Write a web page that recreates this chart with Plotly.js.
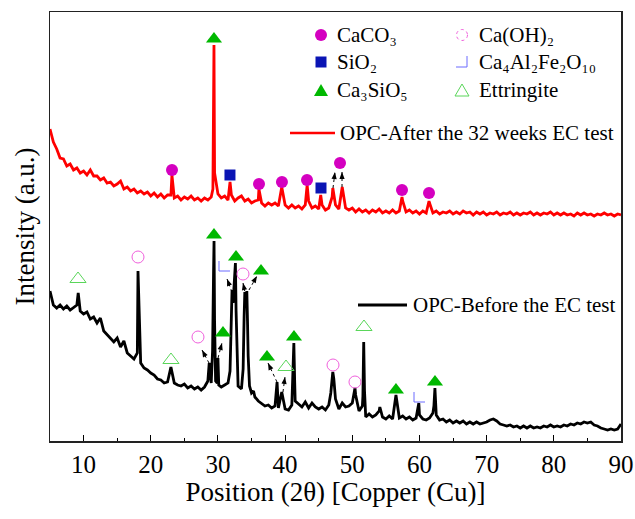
<!DOCTYPE html>
<html>
<head>
<meta charset="utf-8">
<script src="https://cdn.plot.ly/plotly-3.0.1.min.js"></script>
<style>
  html, body { margin: 0; padding: 0; background: #fff; }
  #chart { width: 635px; height: 519px; }
</style>
</head>
<body>
<div id="chart"></div>
<script>
// XRD patterns of OPC before and after the 32-week EC test.
// Intensities are arbitrary units (the two patterns are stacked); the background
// is sampled every 0.5° 2θ and the sharp reflections are listed on their own.
const GRID_START = 5;
const GRID_STEP = 0.5;

// OPC after the 32 weeks EC test
const afterBase = [
  312,299,292,283,282,275,277,271,273,268,
  270,266,271,265,265,261,263,258,259,255,
  257,260,252,254,250,252,248,250,247,249,
  245,248,244,247,243,246,246,243,245,241,
  244,242,245,241,243,240,243,241,244,268,
  247,243,245,241,246,240,243,245,240,242,
  238,240,241,238,235,238,236,238,235,254,
  236,233,236,233,235,232,236,240,233,235,
  232,236,231,233,244,236,232,254,233,231,
  233,229,232,229,231,228,231,229,232,228,
  230,228,231,228,230,240,229,231,228,230,
  227,230,228,238,228,230,227,229,228,230,
  227,229,227,230,228,229,226,229,227,229,
  226,228,227,229,226,228,227,229,226,228,
  226,228,227,229,226,228,226,228,227,229,
  226,228,226,228,226,227,225,228,226,228,
  226,227,225,227,226,228,226,227,225,227,
  226
];
const afterPeakX = [23.15, 29.25, 29.35, 29.41, 29.46, 31.8, 36.1, 43.28, 45.3, 47.1, 57.4, 61.42];
const afterPeakY = [266, 252, 330, 396, 320, 259, 252, 256, 246, 253, 244, 240];

// OPC before the EC test
const beforeBase = [
  150,136,133,136,132,135,131,134,136,130,
  127,129,122,124,118,123,110,106,102,99,
  103,94,100,88,85,82,88,78,73,71,
  68,66,62,61,58,59,74,58,56,55,
  57,53,55,52,54,51,54,60,58,120,
  83,54,56,58,135,172,55,52,149,85,
  48,44,40,37,35,36,33,35,33,49,
  32,31,36,40,37,34,39,33,38,34,
  32,34,31,36,64,42,32,38,34,35,
  38,46,30,35,24,27,24,26,30,24,
  22,25,22,46,23,25,22,24,21,23,
  26,22,21,23,28,26,21,22,19,21,
  18,20,18,20,17,19,17,19,17,18,
  19,21,22,20,17,16,15,16,14,15,
  13,15,13,15,13,14,13,15,14,16,
  14,15,14,16,15,17,16,18,17,19,
  18,19,16,15,13,12,11,12,11,12,
  17
];
const beforePeakX = [9.2, 18.1, 28.7, 29.2, 29.35, 29.42, 29.65, 29.9, 30.12,
  31.8, 31.95, 32.1, 32.25, 32.35, 32.6, 32.7, 32.85,
  33.75, 33.9, 34.15, 34.3, 34.4, 34.7, 35.3, 38.8,
  41.2, 41.3, 41.42, 46.8, 47.1, 47.25, 50.4, 51.58, 51.7, 51.82,
  54.1, 59.9, 62.15, 62.3, 62.45];
const beforePeakY = [148, 170, 78, 90, 170, 200, 60, 58, 56,
  70, 110, 151, 138, 150, 178, 130, 75,
  72, 125, 138, 150, 120, 55, 50, 59,
  70, 98, 60, 48, 69, 62, 53, 45, 99, 50,
  34, 38, 35, 53, 35];

// Phase identification (2θ of the reflection, height of its symbol)
const caco3X = [23.16, 36.11, 39.53, 43.26, 48.17, 57.40, 61.42];
const caco3Y = [271, 257, 259, 261, 278, 251, 248];
const sio2X = [31.79, 45.34];
const sio2Y = [266, 253];
const c3sX = [29.41, 29.41, 30.75, 32.69, 36.41, 37.30, 41.32, 56.50, 62.31];
const c3sY = [402, 206, 108, 184, 170, 84, 104, 51, 59];
const chX = [18.10, 27.03, 33.73, 47.13, 50.40];
const chY = [184, 104, 167, 76, 59];
const c4afX = [30.9, 59.93];
const c4afY = [175, 44];
const ettX = [9.17, 23.01, 40.13, 51.74];
const ettY = [162, 81, 74, 114];

// Pointers from overlapping reflections to their symbols
const arrowTailX = [47.13, 48.47, 28.67, 30.01, 32.09, 34.18, 34.62, 38.79, 39.68];
const arrowTailY = [253, 254, 78, 83, 149, 144, 151, 59, 49];
const arrowTipX  = [47.42, 48.47, 27.63, 30.60, 31.35, 33.73, 35.81, 37.45, 39.98];
const arrowTipY  = [269, 269, 91, 98, 162, 158, 165, 78, 64];

// Legend labels
const phaseNames = ['CaCO₃', 'SiO₂', 'Ca₃SiO₅', 'Ca(OH)₂', 'Ca₄Al₂Fe₂O₁₀', 'Ettringite'];
const seriesNames = ['OPC-After the 32 weeks EC test', 'OPC-Before the EC test'];

const FONT = '"Times New Roman", "Liberation Serif", serif';
const W = 635, H = 519;
const M = { l: 50, r: 14, t: 12, b: 78 };
const X_RANGE = [5, 90];
const Y_RANGE = [0, 429];
const plotW = W - M.l - M.r, plotH = H - M.t - M.b;
const pxPerX = plotW / (X_RANGE[1] - X_RANGE[0]);
const pxPerY = plotH / (Y_RANGE[1] - Y_RANGE[0]);

const COL = {
  caco3: '#d400c0', sio2: '#0a14b4', c3s: '#00b800',
  ch: '#f060dc', c4af: '#6a6aff', ett: '#5ad65a'
};

function buildSeries(base, peakX, peakY) {
  const pts = base.map((y, i) => [GRID_START + i * GRID_STEP, y]);
  peakX.forEach((x, i) => pts.push([x, peakY[i]]));
  pts.sort((a, b) => a[0] - b[0]);
  return { x: pts.map(p => p[0]), y: pts.map(p => p[1]) };
}

const after = buildSeries(afterBase, afterPeakX, afterPeakY);
const before = buildSeries(beforeBase, beforePeakX, beforePeakY);

const traces = [
  { x: before.x, y: before.y, mode: 'lines', name: seriesNames[1],
    line: { color: '#000', width: 2.8 } },
  { x: after.x, y: after.y, mode: 'lines', name: seriesNames[0],
    line: { color: '#ff0000', width: 2.8 } },
  { x: caco3X, y: caco3Y, mode: 'markers', name: phaseNames[0],
    marker: { symbol: 'circle', size: 12, color: COL.caco3 } },
  { x: sio2X, y: sio2Y, mode: 'markers', name: phaseNames[1],
    marker: { symbol: 'square', size: 11, color: COL.sio2 } },
  { x: c3sX, y: c3sY, mode: 'markers', name: phaseNames[2],
    marker: { symbol: 'triangle-up', size: 14, color: COL.c3s } },
  { x: chX, y: chY, mode: 'markers', name: phaseNames[3],
    marker: { symbol: 'circle-open', size: 12, color: COL.ch, line: { width: 1 } } },
  { x: ettX, y: ettY, mode: 'markers', name: phaseNames[5],
    marker: { symbol: 'triangle-up-open', size: 14, color: COL.ett, line: { width: 1 } } }
];

const shapes = [];
const annotations = [];

// Ca4Al2Fe2O10 corner symbols, sized in pixels around each data point
c4afX.forEach((x, i) => {
  shapes.push({ type: 'path', xref: 'x', yref: 'y', xsizemode: 'pixel', ysizemode: 'pixel',
    xanchor: x, yanchor: c4afY[i], path: 'M -5 5 L -5 -5 L 6 -5',
    line: { color: COL.c4af, width: 1 } });
});

// dotted pointers with a small solid head at the tip
const HEAD_LEN = 7, HEAD_HALF = 2.6;
arrowTailX.forEach((tx, i) => {
  const hx = arrowTipX[i], hy = arrowTipY[i];
  shapes.push({ type: 'line', xref: 'x', yref: 'y', x0: tx, y0: arrowTailY[i], x1: hx, y1: hy,
    line: { color: '#000', width: 1, dash: 'dot' } });
  const dx = (hx - tx) * pxPerX, dy = (hy - arrowTailY[i]) * pxPerY;
  const len = Math.hypot(dx, dy);
  const ux = dx / len, uy = dy / len;
  const bx = -ux * HEAD_LEN, by = -uy * HEAD_LEN;
  const p1 = [bx - uy * HEAD_HALF, by + ux * HEAD_HALF];
  const p2 = [bx + uy * HEAD_HALF, by - ux * HEAD_HALF];
  shapes.push({ type: 'path', xref: 'x', yref: 'y', xsizemode: 'pixel', ysizemode: 'pixel',
    xanchor: hx, yanchor: hy,
    path: `M 0 0 L ${p1[0].toFixed(2)} ${p1[1].toFixed(2)} L ${p2[0].toFixed(2)} ${p2[1].toFixed(2)} Z`,
    fillcolor: '#000', line: { width: 0 } });
});

// legend built in pixel space
const px2paperX = px => (px - M.l) / plotW;
const py2paperY = py => (H - M.b - py) / plotH;
function keyShape(type, cx, cy, extra) {
  return Object.assign({ type, xref: 'paper', yref: 'paper', xsizemode: 'pixel', ysizemode: 'pixel',
    xanchor: px2paperX(cx), yanchor: py2paperY(cy) }, extra);
}
function keyText(text, x, y) {
  annotations.push({ xref: 'paper', yref: 'paper', x: px2paperX(x), y: py2paperY(y),
    xanchor: 'left', yanchor: 'middle', showarrow: false, text,
    font: { family: FONT, size: 21, color: '#000' } });
}
const col1 = 321, col2 = 462, rows = [35, 62, 90];
shapes.push(keyShape('circle', col1, rows[0], { x0: -6, x1: 6, y0: -6, y1: 6,
  fillcolor: COL.caco3, line: { width: 0 } }));
shapes.push(keyShape('rect', col1, rows[1], { x0: -5.5, x1: 5.5, y0: -5.5, y1: 5.5,
  fillcolor: COL.sio2, line: { width: 0 } }));
shapes.push(keyShape('path', col1, rows[2], { path: 'M -7 -6 L 7 -6 L 0 6 Z',
  fillcolor: COL.c3s, line: { width: 0 } }));
shapes.push(keyShape('circle', col2, rows[0], { x0: -5.5, x1: 5.5, y0: -5.5, y1: 5.5,
  line: { color: COL.ch, width: 1, dash: 'dot' } }));
shapes.push(keyShape('path', col2, rows[1], { path: 'M -6 -5 L 5 -5 L 5 6',
  line: { color: COL.c4af, width: 1 } }));
shapes.push(keyShape('path', col2, rows[2], { path: 'M -7 -6 L 7 -6 L 0 6 Z',
  line: { color: COL.ett, width: 1 } }));
keyText(phaseNames[0], 335, rows[0]);
keyText(phaseNames[1], 335, rows[1]);
keyText(phaseNames[2], 335, rows[2]);
keyText(phaseNames[3], 477, rows[0]);
keyText(phaseNames[4], 477, rows[1]);
keyText(phaseNames[5], 477, rows[2]);

// series keys
shapes.push({ type: 'line', xref: 'paper', yref: 'paper', x0: px2paperX(290), x1: px2paperX(335),
  y0: py2paperY(133), y1: py2paperY(133), line: { color: '#ff0000', width: 2.5 } });
keyText(seriesNames[0], 338, 133);
shapes.push({ type: 'line', xref: 'paper', yref: 'paper', x0: px2paperX(358), x1: px2paperX(407),
  y0: py2paperY(305), y1: py2paperY(305), line: { color: '#000', width: 3 } });
keyText(seriesNames[1], 411, 305);

const layout = {
  width: W, height: H,
  margin: M,
  paper_bgcolor: '#fff', plot_bgcolor: '#fff',
  showlegend: false,
  font: { family: FONT, color: '#000' },
  xaxis: {
    range: X_RANGE, tick0: 0, dtick: 10, ticks: 'inside', ticklen: 6, tickwidth: 1, tickcolor: '#000',
    minor: { dtick: 5, ticks: 'inside', ticklen: 3, tickwidth: 1, tickcolor: '#000' },
    showline: true, linecolor: '#222', linewidth: 1.5, mirror: true,
    showgrid: false, zeroline: false,
    tickfont: { family: FONT, size: 25, color: '#000' },
    title: { text: 'Position (2θ) [Copper (Cu)]', font: { family: FONT, size: 27, color: '#000' }, standoff: 0 }
  },
  yaxis: {
    range: Y_RANGE, showticklabels: false, ticks: '',
    showline: true, linecolor: '#222', linewidth: 1.5, mirror: true,
    showgrid: false, zeroline: false,
    title: { text: 'Intensity (a.u.)', font: { family: FONT, size: 27, color: '#000' }, standoff: 6 }
  },
  shapes, annotations
};

Plotly.newPlot('chart', traces, layout, { displayModeBar: false, staticPlot: true });
</script>
</body>
</html>
